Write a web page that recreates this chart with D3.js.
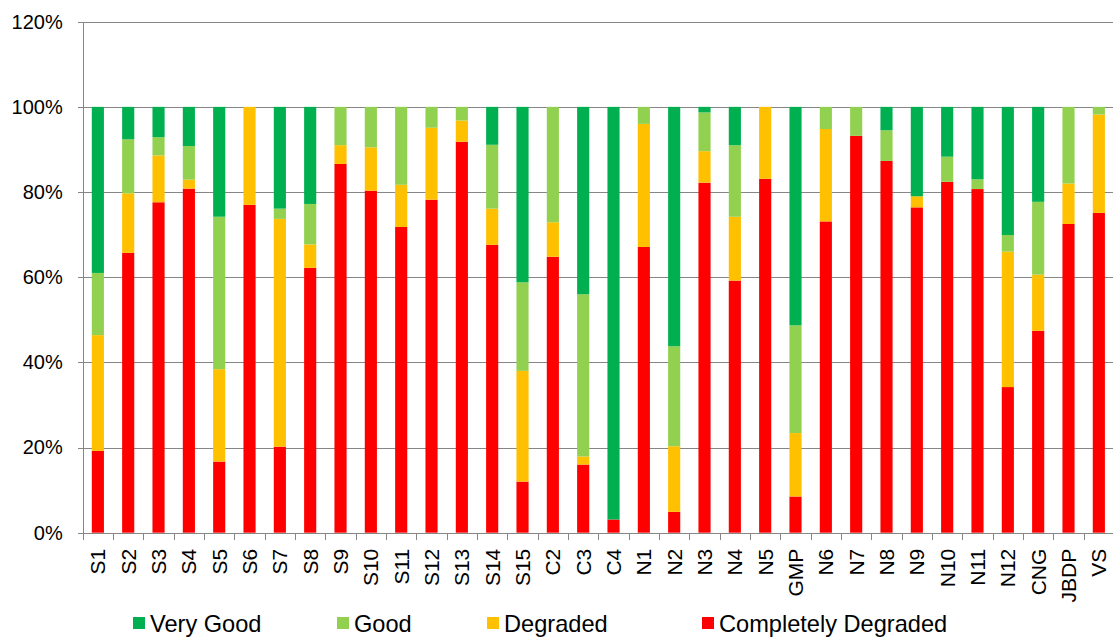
<!DOCTYPE html>
<html lang="en">
<head>
<meta charset="utf-8">
<title>Condition stacked bars</title>
<script src="https://cdn.jsdelivr.net/npm/d3@7"></script>
<style>
    body { margin: 0; background: #fff; }
    text { font-family: "Liberation Sans", Arial, sans-serif; fill: #000; }
    .grid line { stroke: #868686; stroke-width: 1; shape-rendering: crispEdges; }
    .axis path, .axis line { stroke: #868686; shape-rendering: crispEdges; }
</style>
</head>
<body>
<script>
    // categories and values (percent)
    var categories = ["S1","S2","S3","S4","S5","S6","S7","S8","S9","S10","S11","S12","S13","S14","S15",
        "C2","C3","C4","N1","N2","N3","N4","N5","GMP","N6","N7","N8","N9","N10","N11","N12","CNG","JBDP","VS"];
    var completelyDegraded = [19.2,65.7,77.6,80.8,16.7,77.0,20.2,62.2,86.6,80.3,71.8,78.2,91.8,67.6,12.0,
        64.8,16.0,3.1,67.1,4.9,82.2,59.2,83.1,8.5,73.1,93.2,87.3,76.4,82.4,80.7,34.2,47.4,72.5,75.1];
    var degraded = [27.2,14.0,11.0,2.1,21.7,23.0,53.5,5.5,4.4,10.2,9.9,16.9,5.0,8.5,26.0,
        8.1,1.9,0,28.9,15.4,7.4,15.0,16.9,14.9,21.7,0,0,2.6,0,0,31.8,13.2,9.5,23.1];
    var good = [14.6,12.7,4.3,7.9,35.8,0,2.4,9.5,9.0,9.5,18.3,4.9,3.2,15.0,20.8,
        27.1,38.1,0,4.0,23.5,9.1,16.8,0,25.3,5.2,6.8,7.2,0,5.9,2.3,3.9,17.1,18.0,1.8];
    var veryGood = [39.0,7.6,7.1,9.2,25.8,0,23.9,22.8,0,0,0,0,0,8.9,41.2,
        0,44.0,96.9,0,56.2,1.3,9.0,0,51.3,0,0,5.5,21.0,11.7,17.0,30.1,22.3,0,0];
    var yTicks = [0, 20, 40, 60, 80, 100, 120];

    var seriesNames = ["Completely Degraded", "Degraded", "Good", "Very Good"];
    var colors = { "Very Good": "#00B050", "Good": "#92D050", "Degraded": "#FFC000", "Completely Degraded": "#FF0000" };
    var legendOrder = ["Very Good", "Good", "Degraded", "Completely Degraded"];

    var width = 1113, height = 637;
    var plotLeft = 82.7, plotRight = 1114, plotTop = 21.7, plotBottom = 532.7;

    var svg = d3.select("body").append("svg")
        .attr("width", width)
        .attr("height", height);

    var rows = categories.map(function (c, i) {
        return {
            cat: c,
            "Completely Degraded": completelyDegraded[i],
            "Degraded": degraded[i],
            "Good": good[i],
            "Very Good": veryGood[i]
        };
    });

    var x = d3.scaleBand()
        .domain(categories)
        .range([plotLeft, plotRight])
        .paddingInner(0.6)
        .paddingOuter(0.3);

    var y = d3.scaleLinear()
        .domain([0, 120])
        .range([plotBottom, plotTop]);

    // gridlines
    svg.append("g")
        .attr("class", "grid")
        .selectAll("line")
        .data(yTicks.filter(function (d) { return d > 0; }))
        .enter().append("line")
        .attr("x1", plotLeft).attr("x2", plotRight)
        .attr("y1", function (d) { return Math.round(y(d)) + 0.5; })
        .attr("y2", function (d) { return Math.round(y(d)) + 0.5; });

    // stacked bars
    var stack = d3.stack().keys(seriesNames)(rows);
    svg.append("g").selectAll("g")
        .data(stack)
        .enter().append("g")
        .attr("fill", function (d) { return colors[d.key]; })
        .selectAll("rect")
        .data(function (d) { return d; })
        .enter().append("rect")
        .attr("x", function (d) { return x(d.data.cat); })
        .attr("width", x.bandwidth())
        .attr("y", function (d) { return y(d[1]); })
        .attr("height", function (d) { return y(d[0]) - y(d[1]); });

    // y axis
    var yAxis = svg.append("g")
        .attr("class", "axis")
        .attr("transform", "translate(" + plotLeft + ",0)")
        .call(d3.axisLeft(y).tickValues(yTicks).tickSize(5).tickPadding(15)
            .tickFormat(function (d) { return d + "%"; }));
    yAxis.selectAll("text").style("font-size", "20px").attr("fill", "#000");

    // x axis: labels at band centres, ticks at band boundaries
    var step = x.step();
    var xAxis = svg.append("g")
        .attr("class", "axis")
        .attr("transform", "translate(0," + plotBottom + ")")
        .call(d3.axisBottom(x).tickSize(0).tickPadding(0));
    xAxis.select(".domain").attr("d", "M" + plotLeft + ",0.5H" + plotRight);
    xAxis.selectAll(".tick text")
        .style("font-size", "21px")
        .attr("fill", "#000")
        .attr("text-anchor", "end")
        .attr("transform", "translate(0,16) rotate(-90)")
        .attr("x", 0)
        .attr("y", 0)
        .attr("dy", "0.35em");
    xAxis.selectAll(".bound")
        .data(d3.range(categories.length + 1))
        .enter().append("line")
        .attr("class", "bound")
        .attr("x1", function (i) { return Math.round(plotLeft + i * step) + 0.5; })
        .attr("x2", function (i) { return Math.round(plotLeft + i * step) + 0.5; })
        .attr("y1", 0).attr("y2", 7);

    // legend
    var legendX = [133, 337, 487, 702];
    var legend = svg.append("g").selectAll("g")
        .data(legendOrder)
        .enter().append("g")
        .attr("transform", function (d, i) { return "translate(" + legendX[i] + ",617)"; });
    legend.append("rect")
        .attr("width", 12).attr("height", 12)
        .attr("fill", function (d) { return colors[d]; });
    legend.append("text")
        .attr("x", 17).attr("y", 15)
        .style("font-size", "23.6px")
        .text(function (d) { return d; });
</script>
</body>
</html>
